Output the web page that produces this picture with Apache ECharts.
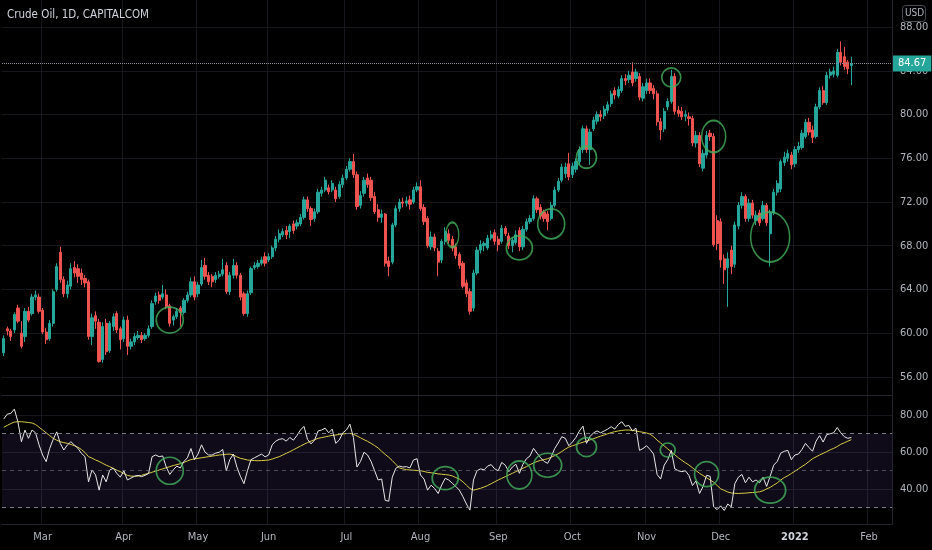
<!DOCTYPE html>
<html><head><meta charset="utf-8">
<script src="https://cdn.jsdelivr.net/npm/echarts@6.0.0/dist/echarts.min.js"></script>
<style>html,body{margin:0;padding:0;background:#000;}#c{width:932px;height:550px;}</style>
</head><body><div id="c"></div>
<script>
const TITLE = 'Crude Oil, 1D, CAPITALCOM';
const CURRENCY = 'USD';
const FIRST_DAY = [2021, 1, 12];
const HOLIDAYS = ['2021-04-02','2021-05-31','2021-07-05','2021-09-06','2021-11-25','2021-12-24','2021-12-31'];
const SLOT_COUNT = 252;
const MONTHS = ['Jan','Feb','Mar','Apr','May','Jun','Jul','Aug','Sep','Oct','Nov','Dec'];

const opens = [
58.2,60.4,60.2,60.3,62.3,60.0,59.7,62.0,61.8,63.3,
63.3,62.1,60.1,59.5,60.9,64.0,67.4,64.9,63.6,64.3,
66.0,65.9,65.5,65.0,64.7,59.7,61.6,61.0,57.6,60.9,
58.4,60.6,61.8,60.4,59.5,61.2,58.8,59.2,59.6,59.8,
59.5,59.8,60.6,62.9,63.5,63.3,63.5,62.5,61.2,61.5,
62.3,61.9,63.0,63.5,64.7,63.6,64.5,66.2,65.3,65.2,
64.9,65.2,65.4,66.2,63.8,65.3,66.2,65.3,63.6,61.8,
63.7,66.0,66.1,66.4,67.0,66.7,67.0,67.8,68.6,69.0,
69.4,69.3,70.0,69.8,70.0,70.6,72.2,71.4,70.5,71.1,
72.8,73.1,73.3,73.1,73.1,72.5,73.6,74.2,75.0,75.7,
74.5,71.7,72.8,74.2,74.0,72.5,71.3,70.6,70.9,66.6,
66.5,69.9,71.4,72.0,71.9,72.2,72.0,73.1,73.4,71.5,
70.5,67.9,68.8,67.5,66.7,68.4,69.1,68.6,67.9,67.2,
66.4,64.6,63.8,62.3,65.5,67.6,68.0,67.8,68.7,69.2,
68.6,68.4,69.6,68.9,68.0,68.3,69.4,67.9,69.5,70.2,
70.5,72.3,71.5,71.1,70.9,70.5,71.7,73.1,74.0,74.6,
75.5,74.5,75.0,75.7,76.8,78.7,76.8,78.7,79.4,80.0,
79.9,80.4,81.0,82.2,81.7,82.2,83.3,83.2,83.9,83.3,
83.5,81.5,82.2,82.9,82.4,81.9,79.35,78.7,80.7,81.2,
83.5,80.4,80.3,79.85,79.8,79.65,77.4,78.1,75.1,76.3,
78.3,78.0,70.3,70.2,66.8,66.0,67.6,66.3,69.8,71.7,
72.5,70.5,71.9,70.3,71.0,70.5,71.7,69.1,71.0,72.9,
73.2,75.6,76.0,76.3,75.5,76.8,77.0,78.0,79.3,78.6,
78.0,80.7,82.2,81.1,83.6,83.7,83.6,85.7,85.3,84.8,
84.5];
const closes = [
59.5,60.2,59.7,61.7,61.1,58.8,62.0,61.2,63.3,63.5,
62.0,60.1,59.4,60.9,63.8,66.1,64.9,63.6,64.4,65.9,
65.5,65.2,64.9,64.6,59.7,61.4,61.1,57.4,60.6,58.3,
60.9,61.5,60.3,59.4,61.2,58.8,59.2,59.7,59.8,59.4,
59.8,60.4,62.7,63.4,63.0,63.6,62.4,60.9,61.5,62.0,
61.9,63.0,63.5,64.7,63.3,64.4,66.0,65.2,64.7,64.7,
65.3,65.4,65.8,63.8,65.3,66.2,65.3,63.3,61.8,63.6,
65.9,66.2,66.4,66.7,66.4,67.0,67.8,68.6,69.1,69.3,
69.0,69.8,69.4,70.1,70.6,72.2,71.4,70.4,71.1,72.9,
73.1,74.0,72.95,73.7,72.3,73.6,74.2,75.0,75.7,74.5,
71.6,72.6,74.0,73.6,72.4,71.1,70.6,70.9,66.4,66.1,
69.9,71.4,72.0,71.9,72.1,71.8,73.1,73.4,71.4,70.2,
68.0,68.8,67.8,66.5,68.4,69.3,68.5,67.8,67.1,66.2,
64.3,63.6,62.0,65.5,67.6,68.1,68.2,68.7,69.0,68.4,
68.1,69.6,69.1,68.0,68.5,69.0,67.9,69.5,70.2,70.5,
72.3,71.3,70.7,70.5,70.2,71.7,73.1,73.9,75.2,75.2,
74.3,75.3,75.7,76.8,78.7,76.8,78.4,79.5,80.0,79.8,
80.5,80.9,81.9,81.8,82.3,83.3,83.1,83.6,82.9,83.9,
81.6,82.55,82.9,82.2,81.9,79.35,78.6,80.3,81.2,83.5,
80.3,80.1,79.8,80.0,79.65,77.4,78.1,75.5,76.45,78.1,
78.0,68.1,68.2,66.7,65.8,66.8,66.1,69.9,71.7,72.5,
70.5,71.9,70.8,70.8,70.1,71.7,70.1,71.0,72.9,73.7,
75.7,76.1,76.45,75.4,76.8,77.1,78.3,79.3,78.4,77.9,
80.7,82.2,81.1,83.6,83.9,84.0,85.7,84.8,84.4,84.2,
84.67];
const lows = [
57.9,59.8,59.3,60.0,60.9,58.6,59.2,61.0,61.6,63.0,
61.8,59.9,59.0,59.3,60.6,63.8,64.6,63.3,63.2,64.0,
65.1,64.6,64.4,64.2,59.4,58.9,60.4,57.3,57.3,58.0,
58.2,60.2,60.0,58.5,59.2,58.0,58.5,58.9,59.4,59.1,
59.3,59.6,60.4,62.6,62.7,63.1,62.2,60.6,60.7,61.3,
60.6,61.7,62.8,63.3,63.0,63.3,64.3,64.9,64.4,64.2,
64.6,65.0,65.2,63.6,63.5,65.0,65.0,63.0,61.6,61.5,
63.5,65.8,65.9,66.2,66.1,66.5,66.8,67.5,68.3,68.8,
68.6,68.7,69.1,69.5,69.8,70.4,71.1,69.8,70.2,70.9,
72.5,72.9,72.7,72.9,72.0,72.3,73.3,74.0,74.8,74.2,
71.3,71.4,72.5,73.3,72.1,70.9,70.2,70.1,66.1,65.2,
66.3,69.7,71.1,71.5,71.6,71.3,71.8,72.9,71.2,69.9,
67.8,67.6,67.5,65.2,66.4,68.1,68.2,67.5,66.8,65.9,
64.1,63.3,61.7,62.0,65.3,67.3,67.5,67.6,68.5,68.1,
67.5,68.2,68.9,67.7,67.4,68.1,67.5,67.6,69.3,70.0,
70.3,71.0,70.4,70.2,69.4,70.3,71.5,72.9,73.8,74.2,
74.0,74.2,74.7,75.4,76.5,76.5,75.4,78.5,79.1,79.4,
79.6,80.1,80.7,81.4,81.5,82.0,82.7,82.9,82.6,83.0,
81.3,81.2,81.9,81.9,81.4,79.0,77.7,78.4,80.4,81.0,
80.0,79.8,79.5,79.4,79.0,77.1,77.0,75.2,74.8,76.0,
77.6,67.9,67.6,66.0,64.5,62.4,65.4,66.0,69.5,71.4,
70.2,70.2,70.5,69.9,69.8,70.3,69.8,66.1,70.8,72.6,
72.9,75.3,75.7,75.0,75.2,76.5,76.8,77.8,78.1,77.4,
77.8,80.5,80.9,80.9,83.3,83.4,83.4,84.5,84.1,83.7,
82.7];
const highs = [
59.8,60.6,60.4,61.9,62.6,61.1,62.3,62.4,63.6,63.9,
63.6,62.3,60.5,61.2,64.0,66.4,67.9,65.2,64.8,66.4,
66.6,66.3,65.9,65.3,64.9,61.8,62.0,61.3,61.0,61.3,
61.1,61.8,62.0,60.6,61.5,61.6,59.5,60.0,60.2,60.1,
60.0,60.7,63.0,63.7,63.8,64.4,64.0,62.7,61.7,62.3,
62.5,63.2,63.8,65.1,65.2,64.7,66.7,66.9,65.6,65.4,
65.6,65.7,66.8,66.5,65.6,66.8,66.5,65.5,63.8,63.9,
66.1,66.5,66.7,67.0,67.4,67.3,68.0,68.9,69.5,69.6,
69.8,70.0,70.3,70.4,70.9,72.5,72.5,71.6,71.4,73.2,
73.4,74.3,73.6,74.0,73.4,73.9,74.5,75.3,76.0,76.4,
74.8,73.0,74.3,74.6,74.3,72.9,71.8,71.3,71.0,67.0,
70.1,71.7,72.3,72.4,72.5,72.6,73.4,73.8,74.0,71.8,
70.7,69.3,69.1,67.8,68.6,69.7,69.5,68.9,68.2,67.4,
66.6,64.9,64.1,65.8,67.9,68.5,68.4,69.0,69.4,69.5,
68.9,69.9,69.8,69.2,68.8,69.4,69.7,69.8,70.5,70.8,
72.6,72.5,71.8,71.3,71.2,72.0,73.4,74.2,75.5,75.6,
76.5,75.6,76.0,77.1,79.0,79.0,78.7,79.8,80.3,80.4,
80.8,81.2,82.2,82.5,82.6,83.6,83.7,84.0,84.8,84.2,
83.8,82.9,83.3,83.3,82.7,82.2,79.7,80.6,81.5,84.1,
83.8,80.8,80.7,80.4,80.2,79.9,78.5,78.4,76.8,78.5,
78.6,78.3,70.8,70.5,67.2,67.4,68.0,70.2,72.0,72.9,
72.7,72.3,72.2,71.2,71.3,72.1,71.9,71.3,73.2,74.0,
75.9,76.6,76.8,76.6,77.1,77.5,78.6,79.6,79.7,79.0,
81.0,82.5,82.6,83.9,84.2,84.4,86.0,86.7,86.2,85.0,
85.3];
const rsi = [
78,80.6,81,83.3,76.5,65.7,72,67.5,72,70.5,
63.9,58.5,54.9,62,67,71,64.8,61.2,63.9,65.7,
63.9,62.1,59.4,57.6,44,50.4,47.7,39.5,47.7,44,
50.4,51.3,48.6,46.5,50,45,46,47,47.5,46.8,
47.5,48.5,57.6,58.5,57.6,58,52,48,50.5,52.5,
51.5,55,57,62,56,59,64,60,58.5,58.5,
59.5,60,61.5,50,56,59,52,47,43,50,
56,57,58,59,57.5,58.5,64,66,67,67.3,
66,68,66.5,69,72,74,67,64.5,66.5,71.5,
72,73,70.5,72.5,64.8,66.6,70.5,72,75.2,68,
52,55,60,58.5,55,50,45,45.5,34,33.5,
46.5,51.3,52.5,52,52.2,51.5,55.8,56.5,47.7,45.5,
39.5,42.2,40.4,37.7,42.3,45.9,45,43.2,41.5,39.5,
36,32,28.7,45,50,51,50.5,52.5,53.3,51,
50,54.5,53,49.5,52,53.5,48.6,53.5,56.5,58,
62.1,59.5,57,55,54,57.5,62,65,68.4,67.5,
63.5,65.5,68,71.5,74.1,64.8,68.5,70.5,71.5,70.5,
71.5,72.5,73.8,72.5,75,76.5,74,74.5,71.5,73,
61,62,63.5,61.5,59,48,45.5,53,56,61,
51,50,49.5,50,47.5,42,44.5,37.7,41.5,47.5,
47,30.5,29,31,28.5,32,30.5,43,46.5,48,
43.5,46.5,44,45,43.5,46.5,41.5,47,53,55,
59.5,60.5,61,56,58.5,59,61.5,64.8,62.5,60.5,
66,69,65.5,69.5,70,70.5,73.4,70.5,68.4,67.5,
68];
const rsiMA = [
73.5,74.5,75.5,76.3,76.5,76.5,76.3,76.1,75.8,75,
73.5,72,70.5,69,67.5,66.5,65.7,65.2,64.8,64.2,
63.5,62.7,61.5,59.8,57.6,56.8,55.8,55,54,53,
52.2,51.3,50.3,49.5,48.5,47.5,47.1,47,47.1,47.5,
48.1,48.6,49.2,49.8,50.4,51,51.6,52.2,52.8,53.3,
53.8,54.5,55.3,56,56.4,56.7,57,57.3,57.6,57.9,
58.2,58.5,58.7,58.9,59,58.5,57.5,56.7,56.3,55.8,
55.6,55.5,55.4,55.5,55.6,55.8,56.3,57,57.6,58.5,
59.4,60.3,61.3,62.3,63.3,64.3,65.2,66,66.8,67.5,
67.9,68.3,68.7,69.1,69.3,69.6,69.9,70.1,70.2,69.7,
68.8,67.8,66.8,65.9,64.8,63.6,62.3,60.5,58.8,57.3,
55.5,53.5,51.5,51,50.6,50.4,50.3,50.1,50,49.6,
49.1,48.9,48.6,48.3,48.1,47.9,47.7,47.2,46.3,45.5,
44,42.2,40.4,39.5,40,40.5,41.2,42,43,44,
45,45.9,46.8,47.7,48.6,49.5,50.4,51.3,52.2,53.3,
54.2,55,55.6,56,56.5,57.3,58.2,59.2,60.4,61.7,
62.8,63.5,64.1,64.8,65.4,66,66.7,67.3,68,68.7,
69.3,70,70.6,71.1,71.5,71.8,72,72,71.8,71.5,
71.1,70.8,70.4,69.8,68.4,66.5,65,63.4,61.8,60.2,
58.6,57,55.6,54.3,53.1,51.6,50.1,48.6,47.4,46.2,
45,43.8,42,40.2,39.4,38.5,38,37.8,37.7,37.8,
37.9,38.1,38.2,38.4,38.6,39.2,40.2,41,42.2,43.4,
45,46.3,47.3,48.5,49.7,51,52.3,53.5,55,56.5,
57.5,58.5,59.4,60.3,61.3,62.1,63.1,64.3,65.1,66,
66.8];

const priceTicks = [56,60,64,68,72,76,80,84,88];
const rsiTicks = [40,60,80];
const rsiBand = [30,70];
const rsiMid = 50;
// hand-drawn annotation marks: [bar index, value]
const priceNotes = [[47,61.2],[127,69.0],[146,67.8],[155,70.0],[165,76.1],[189,83.4],[201,78.0],[217,68.8]];
const rsiNotes = [[47,50],[125,46],[146,47.7],[154,53],[165,62.8],[188,61.2],[199,48.2],[217,39.5]];

// ---- styling (kept apart from data) ----
const priceNoteSizes = [[27,26],[13,25],[26,24],[27,30],[20,22],[19,19],[24,32],[39,50]];
const rsiNoteSizes = [[27,27],[26,23],[25,28],[28,24],[20,19],[15,14],[24,25],[31,26]];
const FONT = "'Liberation Sans Narrow','DejaVu Sans Condensed','Liberation Sans',sans-serif";
const UP = '#26a69a', DOWN = '#ef5350', GRIDC = '#15171c', TXT = '#b2b5be', NOTE = '#43b05c';

// trading-day calendar for the category axis
const dates = [];
(function(){
  const d = new Date(Date.UTC(FIRST_DAY[0], FIRST_DAY[1], FIRST_DAY[2]));
  while (dates.length < SLOT_COUNT) {
    const wd = d.getUTCDay();
    const s = d.toISOString().slice(0,10);
    if (wd !== 0 && wd !== 6 && HOLIDAYS.indexOf(s) < 0) dates.push(s);
    d.setUTCDate(d.getUTCDate() + 1);
  }
})();
const monthStart = dates.map((s,i) => i > 0 && s.slice(0,7) !== dates[i-1].slice(0,7));
const candles = opens.map((o,i) => [o, closes[i], lows[i], highs[i]]);
const lastClose = closes[closes.length - 1];

const chart = echarts.init(document.getElementById('c'), null, {renderer:'canvas'});
const xBase = {
  type:'category', data: dates, boundaryGap: true,
  axisTick:{show:false},
  axisLine:{show:true, lineStyle:{color:'#24262d'}},
  splitLine:{show:true, interval:(i)=>monthStart[i], lineStyle:{color:GRIDC, width:1}}
};
chart.setOption({
  backgroundColor:'#000',
  animation:false,
  title:{text:TITLE, left:7, top:9, padding:0, textStyle:{color:'#d1d4dc', fontSize:11.5, fontWeight:'normal', fontFamily:FONT}},
  grid:[
    {left:2, right:40, top:0, height:395, outerBoundsMode:'none'},
    {left:2, right:40, top:396, height:128, outerBoundsMode:'none'}
  ],
  xAxis:[
    Object.assign({}, xBase, {gridIndex:0, axisLabel:{show:false}}),
    Object.assign({}, xBase, {gridIndex:1, axisLabel:{
      show:true, interval:(i)=>monthStart[i], color:TXT, fontSize:11, fontFamily:FONT, margin:8,
      formatter:(v)=>{ const m = +v.slice(5,7); return m === 1 ? '{yr|' + v.slice(0,4) + '}' : MONTHS[m-1]; },
      rich:{yr:{color:'#d1d4dc', fontWeight:'bold', fontSize:11, fontFamily:FONT}}
    }})
  ],
  yAxis:[
    {gridIndex:0, type:'value', position:'right', min:54.34, max:90.49, scale:true,
     axisLine:{show:true, lineStyle:{color:'#24262d'}},
     axisTick:{show:false, customValues:priceTicks},
     axisLabel:{customValues:priceTicks, color:TXT, fontSize:11, fontFamily:FONT, margin:8, formatter:(v)=>v.toFixed(2)},
     splitLine:{show:true, lineStyle:{color:GRIDC}}},
    {gridIndex:1, type:'value', position:'right', min:21.2, max:90.4,
     axisLine:{show:true, lineStyle:{color:'#24262d'}},
     axisTick:{show:false, customValues:rsiTicks},
     axisLabel:{customValues:rsiTicks, color:TXT, fontSize:11, fontFamily:FONT, margin:8, formatter:(v)=>v.toFixed(2)},
     splitLine:{show:true, lineStyle:{color:GRIDC}}}
  ],
  series:[
    {type:'candlestick', xAxisIndex:0, yAxisIndex:0, data:candles, barWidth:'78%',
     itemStyle:{color:UP, color0:DOWN, borderColor:UP, borderColor0:DOWN, borderWidth:1},
     markLine:{silent:true, symbol:['none','none'],
       lineStyle:{type:'dotted', color:'#8c8f99', width:1},
       label:{show:true, position:'end', distance:1, formatter:()=>lastClose.toFixed(2),
         color:'#fff', backgroundColor:UP, padding:[3,5,2,5], fontSize:11, fontFamily:FONT},
       data:[{yAxis:lastClose}]}},
    {type:'line', name:'RSI', xAxisIndex:1, yAxisIndex:1, data:rsi, symbol:'none',
     lineStyle:{color:'#e8e8e8', width:1}, z:3,
     markArea:{silent:true, itemStyle:{color:'rgba(126,87,194,0.12)'}, data:[[{yAxis:rsiBand[0]},{yAxis:rsiBand[1]}]]},
     markLine:{silent:true, symbol:['none','none'], label:{show:false},
       data:[
         {yAxis:rsiBand[1], lineStyle:{type:[4,4], color:'#787b86', width:1}},
         {yAxis:rsiMid, lineStyle:{type:[4,4], color:'rgba(120,123,134,0.6)', width:1}},
         {yAxis:rsiBand[0], lineStyle:{type:[4,4], color:'#787b86', width:1}}
       ]}},
    {type:'line', name:'RSI MA', xAxisIndex:1, yAxisIndex:1, data:rsiMA, symbol:'none',
     lineStyle:{color:'#d9cb45', width:1}, z:2},
    {type:'scatter', xAxisIndex:0, yAxisIndex:0, data:priceNotes, silent:true, z:5,
     symbol:'circle', symbolSize:(v,p)=>priceNoteSizes[p.dataIndex],
     itemStyle:{color:'rgba(0,0,0,0)', borderColor:NOTE, borderWidth:1.7}},
    {type:'scatter', xAxisIndex:1, yAxisIndex:1, data:rsiNotes, silent:true, z:5,
     symbol:'circle', symbolSize:(v,p)=>rsiNoteSizes[p.dataIndex],
     itemStyle:{color:'rgba(0,0,0,0)', borderColor:NOTE, borderWidth:1.7}}
  ],
  graphic:[
    {type:'rect', left:902, top:5, shape:{width:23, height:16, r:3},
     style:{fill:'rgba(0,0,0,0)', stroke:'#4a4d55', lineWidth:1}},
    {type:'text', left:905, top:8, style:{text:CURRENCY, fill:TXT, font:'10px ' + FONT}}
  ]
});
</script></body></html>
